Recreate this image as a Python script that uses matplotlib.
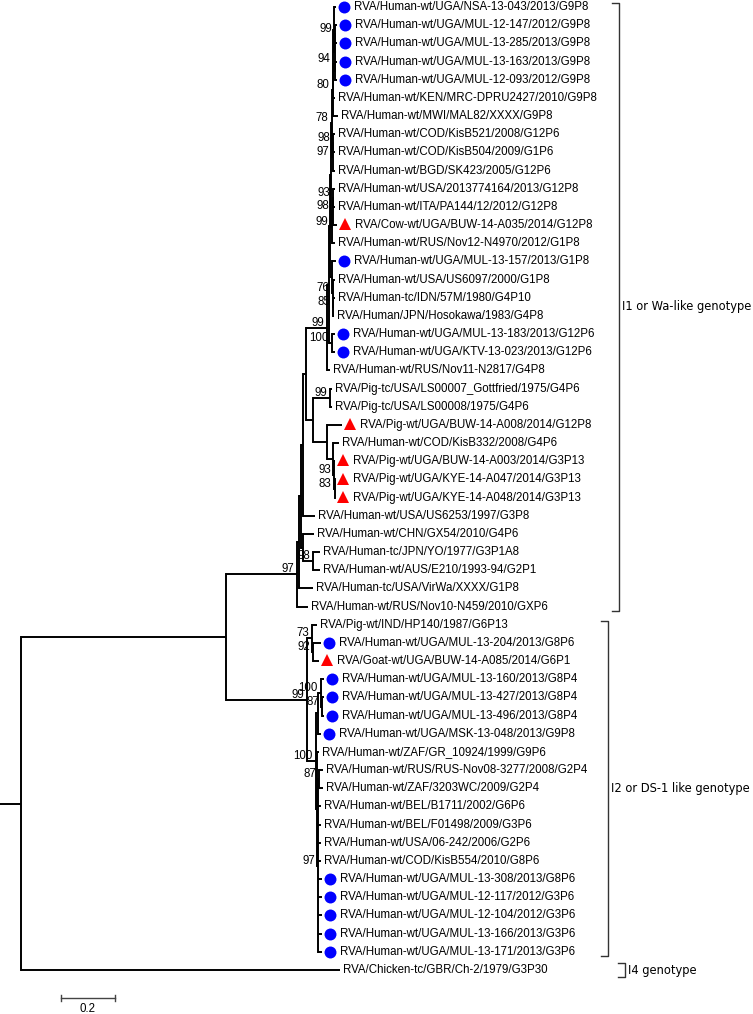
import re
import matplotlib.pyplot as plt

# tip labels, top to bottom
tips = [
    "RVA/Human-wt/UGA/NSA-13-043/2013/G9P8",
    "RVA/Human-wt/UGA/MUL-12-147/2012/G9P8",
    "RVA/Human-wt/UGA/MUL-13-285/2013/G9P8",
    "RVA/Human-wt/UGA/MUL-13-163/2013/G9P8",
    "RVA/Human-wt/UGA/MUL-12-093/2012/G9P8",
    "RVA/Human-wt/KEN/MRC-DPRU2427/2010/G9P8",
    "RVA/Human-wt/MWI/MAL82/XXXX/G9P8",
    "RVA/Human-wt/COD/KisB521/2008/G12P6",
    "RVA/Human-wt/COD/KisB504/2009/G1P6",
    "RVA/Human-wt/BGD/SK423/2005/G12P6",
    "RVA/Human-wt/USA/2013774164/2013/G12P8",
    "RVA/Human-wt/ITA/PA144/12/2012/G12P8",
    "RVA/Cow-wt/UGA/BUW-14-A035/2014/G12P8",
    "RVA/Human-wt/RUS/Nov12-N4970/2012/G1P8",
    "RVA/Human-wt/UGA/MUL-13-157/2013/G1P8",
    "RVA/Human-wt/USA/US6097/2000/G1P8",
    "RVA/Human-tc/IDN/57M/1980/G4P10",
    "RVA/Human/JPN/Hosokawa/1983/G4P8",
    "RVA/Human-wt/UGA/MUL-13-183/2013/G12P6",
    "RVA/Human-wt/UGA/KTV-13-023/2013/G12P6",
    "RVA/Human-wt/RUS/Nov11-N2817/G4P8",
    "RVA/Pig-tc/USA/LS00007_Gottfried/1975/G4P6",
    "RVA/Pig-tc/USA/LS00008/1975/G4P6",
    "RVA/Pig-wt/UGA/BUW-14-A008/2014/G12P8",
    "RVA/Human-wt/COD/KisB332/2008/G4P6",
    "RVA/Pig-wt/UGA/BUW-14-A003/2014/G3P13",
    "RVA/Pig-wt/UGA/KYE-14-A047/2014/G3P13",
    "RVA/Pig-wt/UGA/KYE-14-A048/2014/G3P13",
    "RVA/Human-wt/USA/US6253/1997/G3P8",
    "RVA/Human-wt/CHN/GX54/2010/G4P6",
    "RVA/Human-tc/JPN/YO/1977/G3P1A8",
    "RVA/Human-wt/AUS/E210/1993-94/G2P1",
    "RVA/Human-tc/USA/VirWa/XXXX/G1P8",
    "RVA/Human-wt/RUS/Nov10-N459/2010/GXP6",
    "RVA/Pig-wt/IND/HP140/1987/G6P13",
    "RVA/Human-wt/UGA/MUL-13-204/2013/G8P6",
    "RVA/Goat-wt/UGA/BUW-14-A085/2014/G6P1",
    "RVA/Human-wt/UGA/MUL-13-160/2013/G8P4",
    "RVA/Human-wt/UGA/MUL-13-427/2013/G8P4",
    "RVA/Human-wt/UGA/MUL-13-496/2013/G8P4",
    "RVA/Human-wt/UGA/MSK-13-048/2013/G9P8",
    "RVA/Human-wt/ZAF/GR_10924/1999/G9P6",
    "RVA/Human-wt/RUS/RUS-Nov08-3277/2008/G2P4",
    "RVA/Human-wt/ZAF/3203WC/2009/G2P4",
    "RVA/Human-wt/BEL/B1711/2002/G6P6",
    "RVA/Human-wt/BEL/F01498/2009/G3P6",
    "RVA/Human-wt/USA/06-242/2006/G2P6",
    "RVA/Human-wt/COD/KisB554/2010/G8P6",
    "RVA/Human-wt/UGA/MUL-13-308/2013/G8P6",
    "RVA/Human-wt/UGA/MUL-12-117/2012/G3P6",
    "RVA/Human-wt/UGA/MUL-12-104/2012/G3P6",
    "RVA/Human-wt/UGA/MUL-13-166/2013/G3P6",
    "RVA/Human-wt/UGA/MUL-13-171/2013/G3P6",
    "RVA/Chicken-tc/GBR/Ch-2/1979/G3P30",
]

circle_tips = [0, 1, 2, 3, 4, 14, 18, 19, 35, 37, 38, 39, 40, 48, 49, 50, 51, 52]
triangle_tips = [12, 23, 25, 26, 27, 36]

# newick pieces: leaves are row numbers, internal labels are bootstrap values
g9 = "(0:0.0093,((1:0.0056,2:0.0056)99:0.0037,(3:0.0056,4:0.0056):0.0037):0.0019):0.0019"
p1 = "(" + g9 + ",5:0.0075)94:0.0037"
q = "(" + p1 + ",6:0.0187)80:0.0037"
m = "((7:0.0075,8:0.0075)98:0.0037,9:0.0112)97:0.0037"
r = "(" + q + "," + m + ")78:0.0037"
s = "((10:0.0075,11:0.0075)93:0.0037,12:0.015)98:0.0037"
v = "(" + s + ",13:0.0112)99:0.0037"
z1 = "(" + r + "," + v + "):0.0019"
w = "(14:0.015,(15:0.0075,(16:0.0056,17:0.0019)85:0.0019)76:0.0037):0.0056"
e1 = "((" + z1 + "," + w + "):0.0037,(18:0.0112,19:0.0112)100:0.0112):0.0075"
wa = "(" + e1 + ",20:0.0112)99:0.0785"
pig = ("((21:0.0075,22:0.0075)99:0.0636,"
       "(23:0.0561,(24:0.0224,(25:0.0019,(26:0.0019,27:0.0019)83:0.0019)93:0.0037):0.0224):0.0523):0.0262")
d = "((" + wa + "," + pig + "):0.0112,28:0.0449):0.0075"
h = "(29:0.0411,(30:0.0262,31:0.0262)98:0.0374):0.0075"
i1 = "(((" + d + "," + h + "):0.0075,32:0.0523):0.0075,33:0.0411)97:0.2654"

x2 = "(34:0.0187,(35:0.03,36:0.0224)92:0.0037)73:0.0187"
wp = "((37:0.0112,(38:0.0075,39:0.0075)87:0.0037)100:0.0112,40:0.0112):0.0075"
r2 = ("((42:0.015,43:0.015)87:0.0037,44:0.0112,45:0.0112,46:0.0112,47:0.0112,"
      "48:0.015,49:0.015,50:0.015,51:0.015,52:0.015)97:0.0037")
i2 = "(" + x2 + ",(" + wp + ",(41:0.0075," + r2 + "):0.0037)100:0.0336)99:0.3028"
newick = "((" + i1 + "," + i2 + "):0.7664,53:1.1925);"

genotypes = ["I1 or Wa-like genotype", "I2 or DS-1 like genotype", "I4 genotype"]
genotype_first = [0, 34, 53]
genotype_last = [33, 52, 53]

scale_len = 0.2


def parse(s):
    pos = 0

    def node():
        nonlocal pos
        n = {"kids": [], "name": None, "bs": None, "bl": 0.0}
        if s[pos] == "(":
            pos += 1
            while True:
                n["kids"].append(node())
                ch = s[pos]
                pos += 1
                if ch == ")":
                    break
        lab = re.match(r"[^:,();]*", s[pos:]).group(0)
        pos += len(lab)
        if n["kids"]:
            n["bs"] = lab or None
        else:
            n["name"] = int(lab)
        if s[pos] == ":":
            num = re.match(r"[0-9.]+", s[pos + 1:]).group(0)
            n["bl"] = float(num)
            pos += 1 + len(num)
        return n

    return node()


def layout(n, x0):
    n["x"] = x0 + n["bl"]
    if n["kids"]:
        for k in n["kids"]:
            layout(k, n["x"])
        n["y"] = (n["kids"][0]["y"] + n["kids"][-1]["y"]) / 2
    else:
        n["y"] = n["name"]


tree = parse(newick)
layout(tree, 0.0)

# pixel helpers (1 unit of distance = 267.5 px, one row = 18.17 px)
PX = 1 / 267.5
PY = 1 / 18.17
LW = 1.4
FONT = "Liberation Sans"
FS = 8.3

fig = plt.figure(figsize=(7.53, 10.14), dpi=100)
ax = fig.add_axes([0, 0, 1, 1])
ax.set_xlim(-21 * PX, 732 * PX)
ax.set_ylim(1007 * PY, -7 * PY)
ax.axis("off")


def draw(n):
    if not n["kids"]:
        return
    ax.plot([n["x"], n["x"]], [n["kids"][0]["y"], n["kids"][-1]["y"]],
            color="black", lw=LW, solid_capstyle="projecting")
    for k in n["kids"]:
        ax.plot([n["x"], k["x"]], [k["y"], k["y"]], color="black", lw=LW,
                solid_capstyle="butt")
        draw(k)
    if n["bs"]:
        ax.text(n["x"] - 3 * PX, n["y"] + 1 * PY, n["bs"], ha="right", va="bottom",
                fontsize=FS, family=FONT)


draw(tree)
# root stub
ax.plot([-21 * PX, 0], [tree["y"], tree["y"]], color="black", lw=LW, solid_capstyle="butt")


def leaves(n):
    if not n["kids"]:
        yield n
    for k in n["kids"]:
        yield from leaves(k)


for lf in leaves(tree):
    i = lf["name"]
    if i in circle_tips or i in triangle_tips:
        if i in circle_tips:
            ax.plot(lf["x"] + 8 * PX, i, "o", color="#0000ff", ms=8.6, mew=0)
        else:
            ax.plot(lf["x"] + 8 * PX, i - 0.05, "^", color="#ff0000", ms=9.0, mew=0)
        tx = lf["x"] + 18 * PX
    else:
        tx = lf["x"] + 3 * PX
    ax.text(tx, i, tips[i], ha="left", va="center", fontsize=FS, family=FONT)

# genotype brackets
bracket_x = [619, 608, 625]
for name, a, b, bx in zip(genotypes, genotype_first, genotype_last, bracket_x):
    x = (bx - 21) * PX
    top = a - 4 * PY if a != b else a - 7 * PY
    bot = b + 4 * PY if a != b else b + 7 * PY
    ax.plot([x - 7 * PX, x, x, x - 7 * PX], [top, top, bot, bot], color="#333333", lw=1.0)
    ax.text(x + 3 * PX, (a + b) / 2, name, ha="left", va="center", fontsize=8.3,
            family="DejaVu Sans")

# scale bar
sy = (998 - 7) * PY
sx = (61 - 21) * PX
ax.plot([sx, sx + scale_len], [sy, sy], color="#444444", lw=1.0)
for xx in (sx, sx + scale_len):
    ax.plot([xx, xx], [sy - 3 * PY, sy + 3 * PY], color="#444444", lw=1.0)
ax.text(sx + scale_len / 2, sy + 5 * PY, "0.2", ha="center", va="top", fontsize=FS, family=FONT)

fig.savefig("out.png", dpi=100)
